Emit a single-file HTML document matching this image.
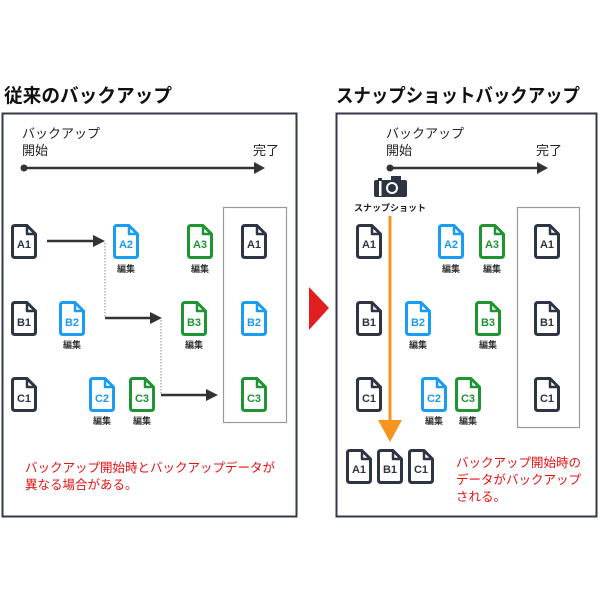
<!DOCTYPE html>
<html><head><meta charset="utf-8"><style>
html,body{margin:0;padding:0;background:#fff;width:600px;height:600px;overflow:hidden}
svg text{font-family:"Liberation Sans","Noto Sans CJK JP",sans-serif}
</style></head><body>
<svg width="600" height="600" viewBox="0 0 600 600" xmlns="http://www.w3.org/2000/svg">
<defs>
<symbol id="doc" viewBox="0 0 26 35" overflow="visible">
<path d="M4,1.5 H16 L24.5,10 V31 Q24.5,33.5 22,33.5 H4 Q1.5,33.5 1.5,31 V4 Q1.5,1.5 4,1.5 Z" fill="#fff" stroke="currentColor" stroke-width="3" stroke-linejoin="round"/>
<path d="M16,1.5 V10 H24.5" fill="none" stroke="currentColor" stroke-width="2.5" stroke-linejoin="round"/>
</symbol>
</defs>
<style>
.lb{font-size:11px;font-weight:bold;text-anchor:middle}
.ed{font-size:9px;font-weight:bold;text-anchor:middle;fill:#333}
.k{color:#2d3543;fill:#2d3543}.b{color:#1a9cf0;fill:#1a9cf0}.g{color:#1f9432;fill:#1f9432}
</style>
<!-- titles -->
<text x="4" y="102" font-size="19" font-weight="bold" fill="#111" textLength="168" lengthAdjust="spacingAndGlyphs">従来のバックアップ</text>
<text x="336" y="102" font-size="19" font-weight="bold" fill="#111" textLength="244" lengthAdjust="spacingAndGlyphs">スナップショットバックアップ</text>
<!-- panels -->
<rect x="2.5" y="113.5" width="294" height="403" fill="none" stroke="#333a45" stroke-width="2"/>
<rect x="336.5" y="113.5" width="260" height="403" fill="none" stroke="#333a45" stroke-width="2"/>
<path d="M309,287 L329,308 L309,330Z" fill="#e02020"/>

<!-- LEFT -->
<text x="22" y="138" font-size="13" fill="#222">バックアップ</text>
<text x="22" y="155" font-size="13" fill="#222">開始</text>
<text x="253" y="155" font-size="13" fill="#222">完了</text>
<circle cx="24" cy="168" r="3.5" fill="#333"/>
<line x1="24" y1="168" x2="258" y2="168" stroke="#333" stroke-width="2.5"/>
<path d="M254,162 L265,168 L254,174Z" fill="#333"/>
<rect x="223.5" y="207.5" width="63" height="215" fill="none" stroke="#999" stroke-width="1.2"/>

<g class="k"><use href="#doc" x="11" y="224" width="26" height="35"/><text class="lb" x="24" y="248">A1</text></g>
<g class="b"><use href="#doc" x="113" y="224" width="26" height="35"/><text class="lb" x="126" y="248">A2</text></g>
<text class="ed" x="126" y="272">編集</text>
<g class="g"><use href="#doc" x="187" y="224" width="26" height="35"/><text class="lb" x="200" y="248">A3</text></g>
<text class="ed" x="200" y="272">編集</text>
<g class="k"><use href="#doc" x="241" y="224" width="26" height="35"/><text class="lb" x="254" y="248">A1</text></g>

<g class="k"><use href="#doc" x="11" y="301" width="26" height="35"/><text class="lb" x="24" y="326">B1</text></g>
<g class="b"><use href="#doc" x="59" y="301" width="26" height="35"/><text class="lb" x="72" y="326">B2</text></g>
<text class="ed" x="72" y="348">編集</text>
<g class="g"><use href="#doc" x="181" y="301" width="26" height="35"/><text class="lb" x="194" y="326">B3</text></g>
<text class="ed" x="194" y="348">編集</text>
<g class="b"><use href="#doc" x="241" y="301" width="26" height="35"/><text class="lb" x="254" y="326">B2</text></g>

<g class="k"><use href="#doc" x="11" y="377" width="26" height="35"/><text class="lb" x="24" y="402">C1</text></g>
<g class="b"><use href="#doc" x="89" y="377" width="26" height="35"/><text class="lb" x="102" y="402">C2</text></g>
<text class="ed" x="102" y="424">編集</text>
<g class="g"><use href="#doc" x="129" y="377" width="26" height="35"/><text class="lb" x="142" y="402">C3</text></g>
<text class="ed" x="142" y="424">編集</text>
<g class="g"><use href="#doc" x="241" y="377" width="26" height="35"/><text class="lb" x="254" y="402">C3</text></g>

<line x1="47" y1="241" x2="95" y2="241" stroke="#333" stroke-width="2.5"/>
<path d="M93,235 L105,241 L93,247Z" fill="#333"/>
<line x1="105" y1="243" x2="105" y2="318" stroke="#888" stroke-width="1" stroke-dasharray="1.5,1.5"/>
<line x1="105" y1="318" x2="152" y2="318" stroke="#333" stroke-width="2.5"/>
<path d="M150,312 L162,318 L150,324Z" fill="#333"/>
<line x1="161" y1="320" x2="161" y2="395" stroke="#888" stroke-width="1" stroke-dasharray="1.5,1.5"/>
<line x1="161" y1="395" x2="208" y2="395" stroke="#333" stroke-width="2.5"/>
<path d="M206,389 L218,395 L206,401Z" fill="#333"/>

<text x="25" y="472" font-size="12.5" fill="#e81010">バックアップ開始時とバックアップデータが</text>
<text x="25" y="489" font-size="12.5" fill="#e81010">異なる場合がある。</text>

<!-- RIGHT -->
<text x="386" y="138" font-size="13" fill="#222">バックアップ</text>
<text x="386" y="155" font-size="13" fill="#222">開始</text>
<text x="536" y="155" font-size="13" fill="#222">完了</text>
<circle cx="390" cy="168" r="3.5" fill="#333"/>
<line x1="390" y1="168" x2="541" y2="168" stroke="#333" stroke-width="2.5"/>
<path d="M537,162 L548,168 L537,174Z" fill="#333"/>
<!-- camera -->
<rect x="374" y="180" width="33" height="17" rx="2" fill="#2d3543"/>
<rect x="391" y="176" width="10" height="5" fill="#2d3543"/>
<rect x="378" y="178" width="4" height="3" fill="#2d3543"/>
<circle cx="392" cy="188" r="6" fill="#fff"/>
<circle cx="392" cy="188" r="4" fill="#2d3543"/>
<rect x="379" y="181" width="2.5" height="15" fill="#fff"/>
<text x="390" y="211" font-size="9" font-weight="bold" fill="#222" text-anchor="middle">スナップショット</text>
<line x1="390" y1="216" x2="390" y2="422" stroke="#f7941d" stroke-width="3"/>
<path d="M378,420 L402,420 L390,442Z" fill="#f7941d"/>
<rect x="517.5" y="207.5" width="62" height="220" fill="none" stroke="#999" stroke-width="1.2"/>

<g class="k"><use href="#doc" x="356" y="224" width="26" height="35"/><text class="lb" x="369" y="248">A1</text></g>
<g class="b"><use href="#doc" x="438" y="224" width="26" height="35"/><text class="lb" x="451" y="248">A2</text></g>
<text class="ed" x="451" y="272">編集</text>
<g class="g"><use href="#doc" x="479" y="224" width="26" height="35"/><text class="lb" x="492" y="248">A3</text></g>
<text class="ed" x="492" y="272">編集</text>
<g class="k"><use href="#doc" x="534" y="224" width="26" height="35"/><text class="lb" x="547" y="248">A1</text></g>

<g class="k"><use href="#doc" x="356" y="301" width="26" height="35"/><text class="lb" x="369" y="326">B1</text></g>
<g class="b"><use href="#doc" x="405" y="301" width="26" height="35"/><text class="lb" x="418" y="326">B2</text></g>
<text class="ed" x="418" y="348">編集</text>
<g class="g"><use href="#doc" x="475" y="301" width="26" height="35"/><text class="lb" x="488" y="326">B3</text></g>
<text class="ed" x="488" y="348">編集</text>
<g class="k"><use href="#doc" x="534" y="301" width="26" height="35"/><text class="lb" x="547" y="326">B1</text></g>

<g class="k"><use href="#doc" x="356" y="377" width="26" height="35"/><text class="lb" x="369" y="402">C1</text></g>
<g class="b"><use href="#doc" x="421" y="377" width="26" height="35"/><text class="lb" x="434" y="402">C2</text></g>
<text class="ed" x="434" y="424">編集</text>
<g class="g"><use href="#doc" x="455" y="377" width="26" height="35"/><text class="lb" x="468" y="402">C3</text></g>
<text class="ed" x="468" y="424">編集</text>
<g class="k"><use href="#doc" x="534" y="377" width="26" height="35"/><text class="lb" x="547" y="402">C1</text></g>

<g class="k"><use href="#doc" x="346" y="449" width="26" height="35"/><text class="lb" x="359" y="473">A1</text></g>
<g class="k"><use href="#doc" x="377" y="449" width="26" height="35"/><text class="lb" x="390" y="473">B1</text></g>
<g class="k"><use href="#doc" x="408" y="449" width="26" height="35"/><text class="lb" x="421" y="473">C1</text></g>

<text x="456" y="467" font-size="12.5" fill="#e81010">バックアップ開始時の</text>
<text x="456" y="484" font-size="12.5" fill="#e81010">データがバックアップ</text>
<text x="456" y="501" font-size="12.5" fill="#e81010">される。</text>
</svg>
</body></html>
